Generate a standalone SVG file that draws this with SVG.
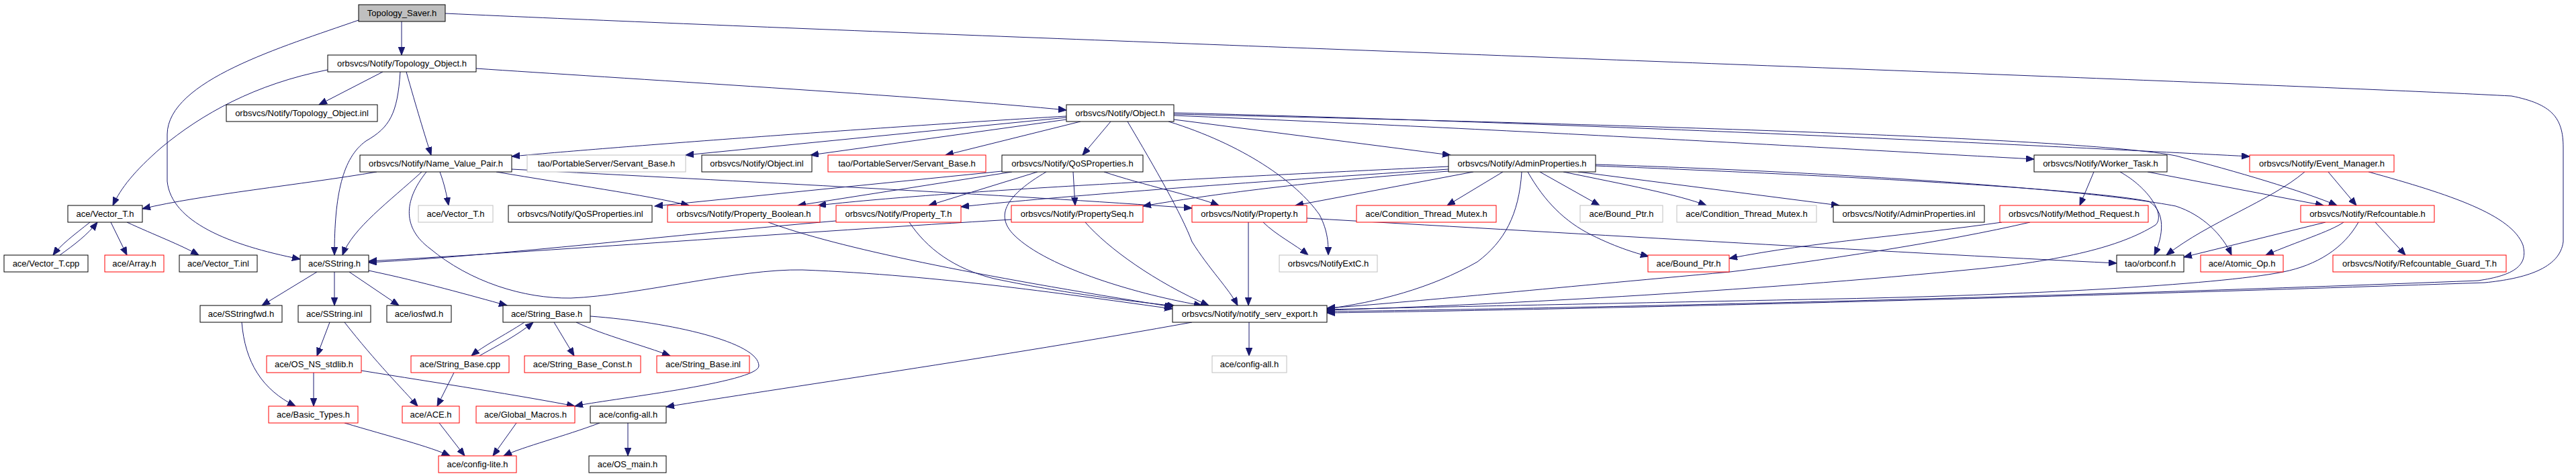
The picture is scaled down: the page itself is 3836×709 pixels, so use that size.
<svg xmlns="http://www.w3.org/2000/svg" width="3836" height="709" viewBox="0 0 3836 709">
<style>
.n rect{fill:#ffffff;stroke:#000000;stroke-width:1}
.n.g rect{stroke:#bfbfbf}
.n.r rect{stroke:#ff0000}
.n.root rect{fill:#bfbfbf;stroke:#000000}
.n text{font-family:"Liberation Sans",Arial,sans-serif;font-size:13px;fill:#000000;text-anchor:middle}
#edges path{fill:none;stroke:#191970;stroke-width:1;marker-end:url(#a)}
</style>
<defs>
<marker id="a" markerWidth="13" markerHeight="10" refX="12" refY="4.75" orient="auto" markerUnits="userSpaceOnUse">
<path d="M0,0 L12,4.75 L0,9.5 z" fill="#191970" stroke="#191970" stroke-width="1"/>
</marker>
</defs>
<rect width="3836" height="709" fill="#ffffff"/>
<g id="edges">
<path d="M598,32 L598,82"/>
<path d="M534,30 C420,70 250,120 249,200 L249,270 C255,330 340,365 447,386"/>
<path d="M663,20 C1500,58 3300,120 3740,143 C3800,155 3817,175 3817,220 L3817,360 C3812,400 3760,415 3700,421 C3000,445 2300,462 1976,466"/>
<path d="M570,107 L475,156"/>
<path d="M488,104 C380,125 300,170 240,220 C200,255 180,280 168,306"/>
<path d="M596,107 C592,170 580,190 545,210 C510,235 498,290 498,380"/>
<path d="M605,107 C620,160 632,200 642,231"/>
<path d="M709,102 C900,115 1400,145 1588,164"/>
<path d="M1588,173 C1300,190 900,220 762,233"/>
<path d="M1588,175 L1021,231"/>
<path d="M1588,178 L1207,231"/>
<path d="M1609,181 L1408,231"/>
<path d="M1654,181 L1612,231"/>
<path d="M1679,181 C1720,250 1760,320 1775,360 C1800,400 1830,430 1843,455"/>
<path d="M1740,181 C1850,215 1930,270 1965,320 C1978,345 1978,365 1978,380"/>
<path d="M1748,178 L2160,231"/>
<path d="M1748,172 C2300,195 2800,225 3029,237"/>
<path d="M1748,168 C2400,185 3000,215 3350,233"/>
<path d="M1748,170 C2400,185 3100,205 3240,232 C3330,255 3430,285 3480,306"/>
<path d="M561,256 C450,275 300,290 212,311"/>
<path d="M655,256 C662,275 665,290 668,306"/>
<path d="M628,256 C580,300 525,340 510,380"/>
<path d="M635,256 C600,300 600,340 640,370 C700,420 780,445 850,444 C950,440 1100,400 1195,402 C1400,410 1600,440 1746,460"/>
<path d="M739,256 C850,275 960,290 1026,306"/>
<path d="M762,252 C1100,270 1500,290 1775,310"/>
<path d="M1492,255 L975,307"/>
<path d="M1507,256 L1188,306"/>
<path d="M1545,256 L1383,306"/>
<path d="M1598,256 L1601,306"/>
<path d="M1558,256 C1500,290 1480,320 1510,350 C1560,400 1700,440 1790,455"/>
<path d="M1644,256 C1700,275 1780,292 1815,306"/>
<path d="M2157,248 C1800,265 1400,285 1218,306"/>
<path d="M2157,252 C1800,275 1550,295 1431,308"/>
<path d="M2157,255 C1950,270 1800,290 1702,307"/>
<path d="M2194,256 L1929,306"/>
<path d="M2238,256 L2155,306"/>
<path d="M2266,256 C2262,320 2240,360 2200,390 C2130,430 2050,450 1976,460"/>
<path d="M2275,256 C2300,300 2330,330 2370,350 C2410,370 2440,378 2455,382"/>
<path d="M2293,256 L2382,306"/>
<path d="M2328,256 C2420,275 2500,290 2541,306"/>
<path d="M2350,256 L2739,306"/>
<path d="M2376,247 C2700,260 3100,280 3200,300 C3225,315 3222,350 3208,380"/>
<path d="M2376,245 C2700,255 3100,280 3240,307 C3280,320 3310,350 3323,380"/>
<path d="M3118,256 L3097,306"/>
<path d="M3198,256 L3460,306"/>
<path d="M3157,256 C3200,280 3225,320 3210,335 C3170,360 3100,385 2950,400 C2600,435 2200,455 1976,462"/>
<path d="M3432,256 C3380,300 3290,330 3226,380"/>
<path d="M3467,256 L3509,306"/>
<path d="M3527,256 C3650,290 3740,320 3757,365 C3765,395 3745,410 3690,418 C3000,445 2300,460 1976,464"/>
<path d="M2981,331 C2850,350 2700,360 2575,385"/>
<path d="M3023,331 C2900,360 2700,390 2576,405 C2300,430 2100,450 1976,459"/>
<path d="M3463,331 L3252,383"/>
<path d="M3490,331 C3470,345 3420,360 3374,380"/>
<path d="M3512,331 C3490,370 3450,395 3400,405 C3300,425 3000,440 2740,445 C2400,452 2100,458 1976,461"/>
<path d="M3537,331 L3582,380"/>
<path d="M1859,331 L1859,455"/>
<path d="M1881,331 C1900,350 1930,365 1948,380"/>
<path d="M1946,325 C2300,345 2800,375 3152,392"/>
<path d="M1144,331 C1250,370 1450,410 1746,457"/>
<path d="M1354,331 C1380,370 1420,400 1480,415 C1600,440 1700,450 1750,456"/>
<path d="M1245,329 C1000,350 750,380 549,391"/>
<path d="M1506,327 C1200,345 800,375 549,389"/>
<path d="M1616,331 C1650,370 1720,420 1800,455"/>
<path d="M134,331 C110,350 90,365 79,380"/>
<path d="M89,380 C110,365 130,350 145,331"/>
<path d="M165,331 L189,380"/>
<path d="M189,331 C230,350 270,365 296,380"/>
<path d="M472,405 L390,455"/>
<path d="M498,405 L498,455"/>
<path d="M520,405 L594,455"/>
<path d="M549,403 C630,420 700,440 755,455"/>
<path d="M360,480 C365,540 390,580 440,605"/>
<path d="M491,480 L472,530"/>
<path d="M513,480 C560,540 600,580 622,605"/>
<path d="M781,480 C750,500 720,515 702,530"/>
<path d="M714,530 C740,515 770,500 794,480"/>
<path d="M825,480 L855,530"/>
<path d="M858,480 C900,500 960,515 998,530"/>
<path d="M879,471 C1000,480 1130,510 1130,545 C1130,570 900,595 856,605"/>
<path d="M467,555 L467,605"/>
<path d="M538,552 C650,570 780,590 856,605"/>
<path d="M676,555 L651,605"/>
<path d="M513,630 C580,650 640,665 670,679"/>
<path d="M654,630 L692,679"/>
<path d="M769,630 L734,679"/>
<path d="M893,630 C840,650 780,665 750,679"/>
<path d="M935,630 L935,679"/>
<path d="M1860,480 L1860,530"/>
<path d="M1775,480 C1500,530 1150,580 992,606"/>
</g>
<g id="n0" class="n root"><rect x="534" y="7" width="129" height="25"/><text x="598.5" y="24">Topology_Saver.h</text></g>
<g id="n1" class="n"><rect x="488" y="82" width="221" height="25"/><text x="598.5" y="99">orbsvcs/Notify/Topology_Object.h</text></g>
<g id="n2" class="n"><rect x="337" y="156" width="225" height="25"/><text x="449.5" y="173">orbsvcs/Notify/Topology_Object.inl</text></g>
<g id="n3" class="n"><rect x="1588" y="156" width="160" height="25"/><text x="1668" y="173">orbsvcs/Notify/Object.h</text></g>
<g id="n4" class="n"><rect x="536" y="231" width="226" height="25"/><text x="649" y="248">orbsvcs/Notify/Name_Value_Pair.h</text></g>
<g id="n5" class="n g"><rect x="785" y="231" width="236" height="25"/><text x="903" y="248">tao/PortableServer/Servant_Base.h</text></g>
<g id="n6" class="n"><rect x="1045" y="231" width="164" height="25"/><text x="1127" y="248">orbsvcs/Notify/Object.inl</text></g>
<g id="n7" class="n r"><rect x="1233" y="231" width="235" height="25"/><text x="1350.5" y="248">tao/PortableServer/Servant_Base.h</text></g>
<g id="n8" class="n"><rect x="1492" y="231" width="210" height="25"/><text x="1597" y="248">orbsvcs/Notify/QoSProperties.h</text></g>
<g id="n9" class="n"><rect x="2157" y="231" width="219" height="25"/><text x="2266.5" y="248">orbsvcs/Notify/AdminProperties.h</text></g>
<g id="n10" class="n"><rect x="3029" y="231" width="198" height="25"/><text x="3128" y="248">orbsvcs/Notify/Worker_Task.h</text></g>
<g id="n11" class="n r"><rect x="3350" y="231" width="215" height="25"/><text x="3457.5" y="248">orbsvcs/Notify/Event_Manager.h</text></g>
<g id="n12" class="n"><rect x="101" y="306" width="111" height="25"/><text x="156.5" y="323">ace/Vector_T.h</text></g>
<g id="n13" class="n g"><rect x="623" y="306" width="111" height="25"/><text x="678.5" y="323">ace/Vector_T.h</text></g>
<g id="n14" class="n"><rect x="757" y="306" width="214" height="25"/><text x="864" y="323">orbsvcs/Notify/QoSProperties.inl</text></g>
<g id="n15" class="n r"><rect x="994" y="306" width="227" height="25"/><text x="1107.5" y="323">orbsvcs/Notify/Property_Boolean.h</text></g>
<g id="n16" class="n r"><rect x="1245" y="306" width="186" height="25"/><text x="1338" y="323">orbsvcs/Notify/Property_T.h</text></g>
<g id="n17" class="n r"><rect x="1506" y="306" width="196" height="25"/><text x="1604" y="323">orbsvcs/Notify/PropertySeq.h</text></g>
<g id="n18" class="n r"><rect x="1775" y="306" width="171" height="25"/><text x="1860.5" y="323">orbsvcs/Notify/Property.h</text></g>
<g id="n19" class="n r"><rect x="2020" y="306" width="208" height="25"/><text x="2124" y="323">ace/Condition_Thread_Mutex.h</text></g>
<g id="n20" class="n g"><rect x="2353" y="306" width="123" height="25"/><text x="2414.5" y="323">ace/Bound_Ptr.h</text></g>
<g id="n21" class="n g"><rect x="2497" y="306" width="208" height="25"/><text x="2601" y="323">ace/Condition_Thread_Mutex.h</text></g>
<g id="n22" class="n"><rect x="2730" y="306" width="225" height="25"/><text x="2842.5" y="323">orbsvcs/Notify/AdminProperties.inl</text></g>
<g id="n23" class="n r"><rect x="2978" y="306" width="221" height="25"/><text x="3088.5" y="323">orbsvcs/Notify/Method_Request.h</text></g>
<g id="n24" class="n r"><rect x="3426" y="306" width="199" height="25"/><text x="3525.5" y="323">orbsvcs/Notify/Refcountable.h</text></g>
<g id="n25" class="n"><rect x="6" y="380" width="125" height="25"/><text x="68.5" y="397">ace/Vector_T.cpp</text></g>
<g id="n26" class="n r"><rect x="156" y="380" width="88" height="25"/><text x="200" y="397">ace/Array.h</text></g>
<g id="n27" class="n"><rect x="267" y="380" width="116" height="25"/><text x="325" y="397">ace/Vector_T.inl</text></g>
<g id="n28" class="n"><rect x="447" y="380" width="102" height="25"/><text x="498" y="397">ace/SString.h</text></g>
<g id="n29" class="n g"><rect x="1905" y="380" width="146" height="25"/><text x="1978" y="397">orbsvcs/NotifyExtC.h</text></g>
<g id="n30" class="n r"><rect x="2454" y="380" width="121" height="25"/><text x="2514.5" y="397">ace/Bound_Ptr.h</text></g>
<g id="n31" class="n"><rect x="3152" y="380" width="100" height="25"/><text x="3202" y="397">tao/orbconf.h</text></g>
<g id="n32" class="n r"><rect x="3277" y="380" width="123" height="25"/><text x="3338.5" y="397">ace/Atomic_Op.h</text></g>
<g id="n33" class="n r"><rect x="3474" y="380" width="258" height="25"/><text x="3603" y="397">orbsvcs/Notify/Refcountable_Guard_T.h</text></g>
<g id="n34" class="n"><rect x="298" y="455" width="122" height="25"/><text x="359" y="472">ace/SStringfwd.h</text></g>
<g id="n35" class="n"><rect x="444" y="455" width="108" height="25"/><text x="498" y="472">ace/SString.inl</text></g>
<g id="n36" class="n"><rect x="576" y="455" width="96" height="25"/><text x="624" y="472">ace/iosfwd.h</text></g>
<g id="n37" class="n"><rect x="749" y="455" width="130" height="25"/><text x="814" y="472">ace/String_Base.h</text></g>
<g id="n38" class="n"><rect x="1746" y="455" width="230" height="25"/><text x="1861" y="472">orbsvcs/Notify/notify_serv_export.h</text></g>
<g id="n39" class="n r"><rect x="397" y="530" width="141" height="25"/><text x="467.5" y="547">ace/OS_NS_stdlib.h</text></g>
<g id="n40" class="n r"><rect x="612" y="530" width="146" height="25"/><text x="685" y="547">ace/String_Base.cpp</text></g>
<g id="n41" class="n r"><rect x="781" y="530" width="173" height="25"/><text x="867.5" y="547">ace/String_Base_Const.h</text></g>
<g id="n42" class="n r"><rect x="978" y="530" width="138" height="25"/><text x="1047" y="547">ace/String_Base.inl</text></g>
<g id="n43" class="n g"><rect x="1805" y="530" width="111" height="25"/><text x="1860.5" y="547">ace/config-all.h</text></g>
<g id="n44" class="n r"><rect x="400" y="605" width="133" height="25"/><text x="466.5" y="622">ace/Basic_Types.h</text></g>
<g id="n45" class="n r"><rect x="599" y="605" width="85" height="25"/><text x="641.5" y="622">ace/ACE.h</text></g>
<g id="n46" class="n r"><rect x="709" y="605" width="147" height="25"/><text x="782.5" y="622">ace/Global_Macros.h</text></g>
<g id="n47" class="n"><rect x="879" y="605" width="113" height="25"/><text x="935.5" y="622">ace/config-all.h</text></g>
<g id="n48" class="n r"><rect x="653" y="679" width="116" height="25"/><text x="711" y="696">ace/config-lite.h</text></g>
<g id="n49" class="n"><rect x="877" y="679" width="115" height="25"/><text x="934.5" y="696">ace/OS_main.h</text></g>
</svg>
